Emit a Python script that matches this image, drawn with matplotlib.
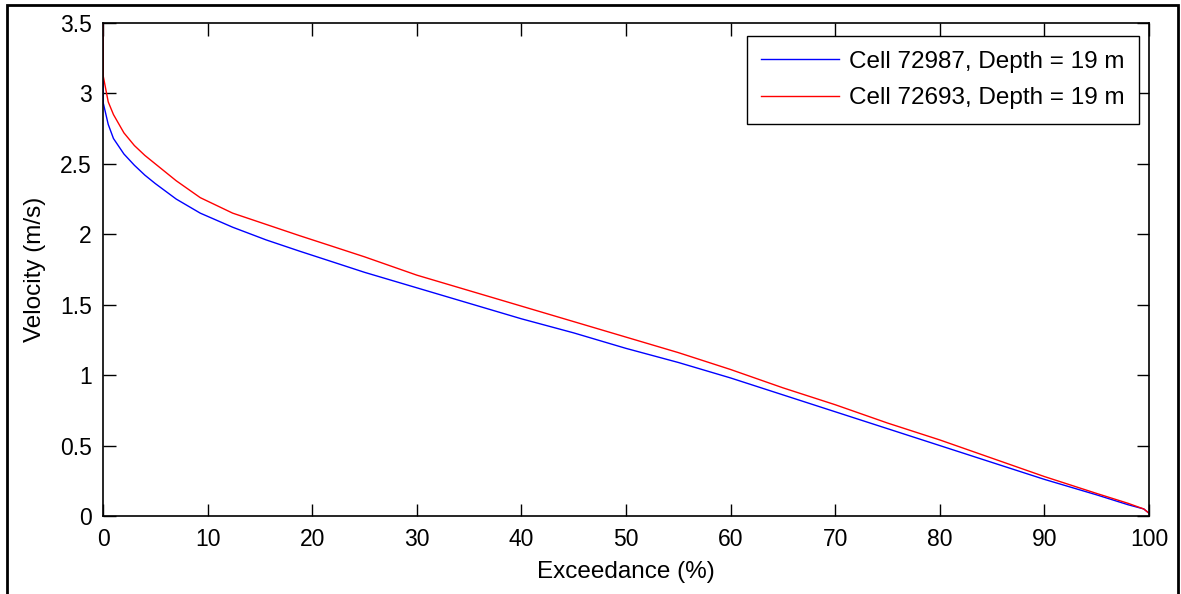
import matplotlib
matplotlib.use('Agg')
import matplotlib.pyplot as plt
from matplotlib.patches import Rectangle

plt.rcParams['font.family'] = ['Liberation Sans', 'DejaVu Sans']

# exceedance (%) and velocity (m/s)
exc = [0, 0.03, 0.5, 1, 2, 3, 4, 5, 7, 9.3, 12.4, 15.6, 18.8, 21.7, 25, 30, 35,
       40, 45, 50, 55, 60, 65, 70, 75, 80, 85, 90, 95, 98, 99.5, 100]
vel_72987 = [3.7, 2.93, 2.78, 2.68, 2.57, 2.49, 2.42, 2.36, 2.25, 2.15, 2.05, 1.96,
             1.88, 1.81, 1.73, 1.62, 1.51, 1.40, 1.30, 1.19, 1.09, 0.98, 0.86,
             0.74, 0.62, 0.50, 0.38, 0.26, 0.15, 0.08, 0.05, 0.02]
vel_72693 = [3.7, 3.12, 2.94, 2.85, 2.72, 2.63, 2.56, 2.50, 2.38, 2.26, 2.15, 2.07,
             1.99, 1.92, 1.84, 1.71, 1.60, 1.49, 1.38, 1.27, 1.16, 1.04, 0.91,
             0.79, 0.66, 0.54, 0.41, 0.28, 0.16, 0.09, 0.05, 0.02]
labels = ['Cell 72987, Depth = 19 m', 'Cell 72693, Depth = 19 m']

fig = plt.figure(figsize=(11.81, 5.94), dpi=100)
ax = fig.add_axes([103/1181, 1 - 516/594, 1046/1181, 493/594])

ax.plot(exc, vel_72987, color='blue', lw=1, label=labels[0])
ax.plot(exc, vel_72693, color='red', lw=1, label=labels[1])

ax.set_xlim(0, 100)
ax.set_ylim(0, 3.5)
ax.set_xticks(range(0, 101, 10))
ax.set_yticks([0, 0.5, 1, 1.5, 2, 2.5, 3, 3.5])
ax.set_yticklabels(['0', '0.5', '1', '1.5', '2', '2.5', '3', '3.5'])
ax.tick_params(direction='in', top=True, right=True, length=9, width=1,
               labelsize=16.5)
ax.tick_params(axis='x', pad=9)
ax.tick_params(axis='y', pad=8)
for s in ax.spines.values():
    s.set_linewidth(1.2)

ax.set_xlabel('Exceedance (%)', fontsize=17.5, labelpad=7)
ax.set_ylabel('Velocity (m/s)', fontsize=17.5, labelpad=10)

leg = ax.legend(loc='upper right', bbox_to_anchor=(1139/1181, 1 - 36/594),
                bbox_transform=fig.transFigure, borderaxespad=0,
                fontsize=17.5, handlelength=3.2, handletextpad=0.4,
                fancybox=False, edgecolor='black', framealpha=1,
                labelspacing=0.6, borderpad=0.6)
leg.get_frame().set_linewidth(1)

# outer border of the figure
fig.patches.append(Rectangle((7/1181, -0.05), 1171/1181, 1.05 - 5/594,
                             transform=fig.transFigure, fill=False,
                             edgecolor='black', lw=2))

fig.savefig('out.png', dpi=100)
